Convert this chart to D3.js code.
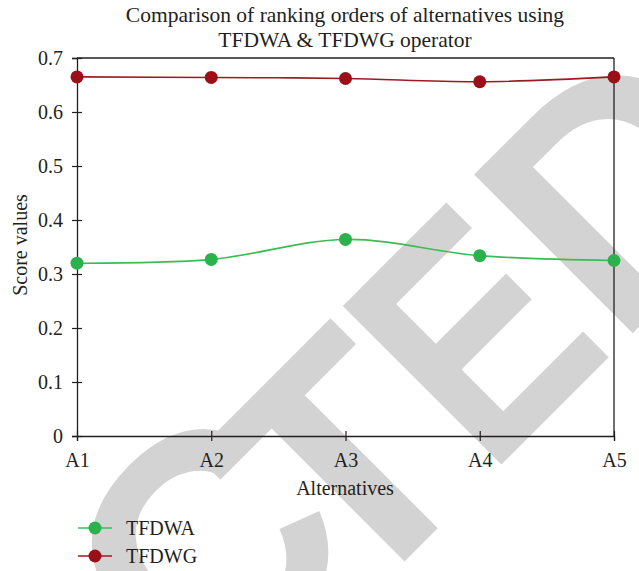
<!DOCTYPE html>
<html>
<head>
<meta charset="utf-8">
<script src="https://cdn.jsdelivr.net/npm/d3@7"></script>
<style>
  html, body { margin: 0; padding: 0; background: #fff; }
  svg { display: block; }
</style>
</head>
<body>
<svg id="chart" width="639" height="571"></svg>
<script>
const categories = ["A1", "A2", "A3", "A4", "A5"];
const tfdwa = [0.320, 0.327, 0.364, 0.334, 0.325];
const tfdwg = [0.665, 0.664, 0.662, 0.656, 0.665];
const yTicks = [0, 0.1, 0.2, 0.3, 0.4, 0.5, 0.6, 0.7];
const seriesNames = ["TFDWA", "TFDWG"];
const titleLines = ["Comparison of ranking orders of alternatives using", "TFDWA & TFDWG operator"];

const svg = d3.select("#chart");
const ink = "#231f20";
const serif = "'Liberation Serif', 'Times New Roman', serif";
const colors = { TFDWA: { line: "#3dbb55", dot: "#2bb24c" }, TFDWG: { line: "#9e1a22", dot: "#9b0f18" } };

// watermark (behind chart), rotated text "RETRACTED"
const wmFont = { family: "'Liberation Sans', Arial, sans-serif", size: 326, fill: "#d3d3d3" };
const wmG = svg.append("g").attr("transform", "rotate(-45)");
function wmText(sel) {
  return sel.attr("font-family", wmFont.family).attr("font-weight", "bold")
    .attr("font-size", wmFont.size).attr("fill", wmFont.fill);
}
wmText(wmG.append("text")).attr("x", -372).attr("y", 683).attr("text-anchor", "end").text("RETRA");
wmText(wmG.append("text")).attr("x", -362).attr("y", 648).text("C");
wmText(wmG.append("text")).attr("x", -187).attr("y", 683).text("T");
wmText(wmG.append("text")).attr("transform", "translate(8,683) scale(0.83,1)").text("E");
wmText(wmG.append("text")).attr("x", 190).attr("y", 683).text("D");

const x = d3.scalePoint().domain(categories).range([77, 614]);
const y = d3.scaleLinear().domain([0, 0.7]).range([436, 58]);

// frame top & right
svg.append("line").attr("x1", 77).attr("x2", 614).attr("y1", y(0.7)).attr("y2", y(0.7))
  .attr("stroke", ink).attr("stroke-width", 1.3);
svg.append("line").attr("x1", 614).attr("x2", 614).attr("y1", y(0.7)).attr("y2", y(0))
  .attr("stroke", ink).attr("stroke-width", 1.3);

const gy = svg.append("g").attr("transform", `translate(${x("A1")},0)`)
  .call(d3.axisLeft(y).tickValues(yTicks).tickSize(5).tickPadding(9)
    .tickFormat(d => d === 0 ? "0" : d3.format(".1f")(d)));
gy.selectAll(".tick line").attr("x1", 5);
const gx = svg.append("g").attr("transform", `translate(0,${y(0)})`)
  .call(d3.axisBottom(x).tickSize(5).tickPadding(12));
gx.selectAll(".tick line").attr("y1", -5);
[gx, gy].forEach(g => {
  g.select(".domain").attr("stroke", ink).attr("stroke-width", 1.3);
  g.selectAll(".tick line").attr("stroke", ink).attr("stroke-width", 1.2);
  g.selectAll(".tick text").attr("fill", ink).attr("font-family", serif).attr("font-size", 20);
});

// titles
svg.append("text").attr("x", 345).attr("y", 22).attr("text-anchor", "middle")
  .attr("font-family", serif).attr("font-size", 21.5).attr("fill", ink).text(titleLines[0]);
svg.append("text").attr("x", 345).attr("y", 47).attr("text-anchor", "middle")
  .attr("font-family", serif).attr("font-size", 21.5).attr("fill", ink).text(titleLines[1]);
svg.append("text").attr("x", 345).attr("y", 495).attr("text-anchor", "middle")
  .attr("font-family", serif).attr("font-size", 20).attr("fill", ink).text("Alternatives");
svg.append("text").attr("transform", "translate(27,245) rotate(-90)").attr("text-anchor", "middle")
  .attr("font-family", serif).attr("font-size", 20).attr("fill", ink).text("Score values");

// series
const line = d3.line().x((d, i) => x(categories[i])).y(d => y(d)).curve(d3.curveCatmullRom.alpha(0.5));
const series = [{ name: "TFDWA", values: tfdwa }, { name: "TFDWG", values: tfdwg }];
series.forEach(s => {
  svg.append("path").attr("d", line(s.values)).attr("fill", "none")
    .attr("stroke", colors[s.name].line).attr("stroke-width", 1.6);
  svg.selectAll(null).data(s.values).enter().append("circle")
    .attr("cx", (d, i) => x(categories[i])).attr("cy", d => y(d)).attr("r", 6.5)
    .attr("fill", colors[s.name].dot);
});

// legend
seriesNames.forEach((n, i) => {
  const ly = 528 + i * 28;
  svg.append("line").attr("x1", 78).attr("x2", 112).attr("y1", ly).attr("y2", ly)
    .attr("stroke", colors[n].line).attr("stroke-width", 1.6);
  svg.append("circle").attr("cx", 95).attr("cy", ly).attr("r", 6.5).attr("fill", colors[n].dot);
  svg.append("text").attr("x", 126).attr("y", ly + 7).attr("font-family", serif)
    .attr("font-size", 20).attr("fill", ink).text(n);
});
</script>
</body>
</html>
